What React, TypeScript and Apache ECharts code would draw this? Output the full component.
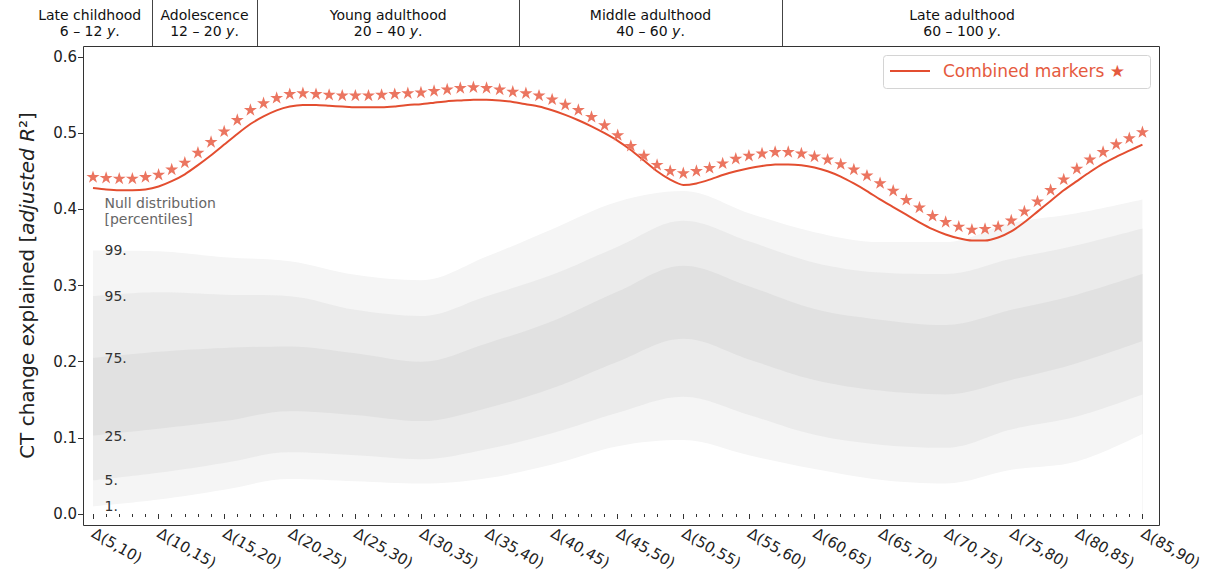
import React, { useEffect, useRef } from "react";
import * as echarts from "echarts";

// ---------- data ----------
const startYears: number[] = Array.from({ length: 81 }, (_, i) => 5 + i);

const combinedStars = [
  0.443, 0.442, 0.441, 0.441, 0.443, 0.446, 0.453, 0.462, 0.475, 0.489,
  0.503, 0.518, 0.531, 0.540, 0.547, 0.552, 0.553, 0.552, 0.551, 0.550,
  0.550, 0.550, 0.551, 0.552, 0.553, 0.554, 0.556, 0.558, 0.560, 0.561,
  0.560, 0.558, 0.555, 0.553, 0.550, 0.545, 0.538, 0.531, 0.522, 0.511,
  0.498, 0.484, 0.471, 0.459, 0.451, 0.448, 0.451, 0.455, 0.461, 0.467,
  0.471, 0.474, 0.476, 0.476, 0.474, 0.470, 0.466, 0.460, 0.453, 0.445,
  0.435, 0.425, 0.413, 0.403, 0.392, 0.384, 0.378, 0.374, 0.375, 0.378,
  0.386, 0.398, 0.411, 0.426, 0.440, 0.454, 0.466, 0.476, 0.486, 0.494,
  0.502,
];

const combinedLine = [
  0.428, 0.426, 0.425, 0.425, 0.426, 0.430, 0.437, 0.446, 0.458, 0.471,
  0.485, 0.499, 0.512, 0.522, 0.530, 0.535, 0.537, 0.537, 0.536, 0.535,
  0.534, 0.534, 0.534, 0.535, 0.537, 0.538, 0.540, 0.542, 0.543, 0.544,
  0.544, 0.543, 0.541, 0.538, 0.535, 0.530, 0.524, 0.517, 0.509, 0.500,
  0.490, 0.478, 0.464, 0.450, 0.439, 0.432, 0.434, 0.439, 0.445, 0.450,
  0.454, 0.457, 0.459, 0.459, 0.458, 0.455, 0.450, 0.443, 0.434, 0.424,
  0.413, 0.403, 0.393, 0.383, 0.374, 0.367, 0.362, 0.359, 0.359, 0.363,
  0.371, 0.383, 0.397, 0.411, 0.425, 0.437, 0.449, 0.460, 0.469, 0.477,
  0.485,
];

const bandStarts = [5, 10, 15, 20, 25, 30, 35, 40, 45, 50, 55, 60, 65, 70, 75, 80, 85];
const p99 = [0.346, 0.345, 0.337, 0.332, 0.314, 0.307, 0.338, 0.374, 0.410, 0.424, 0.395, 0.370, 0.357, 0.357, 0.382, 0.395, 0.413];
const p95 = [0.286, 0.291, 0.288, 0.286, 0.268, 0.260, 0.286, 0.314, 0.351, 0.385, 0.358, 0.330, 0.317, 0.315, 0.335, 0.353, 0.375];
const p75 = [0.205, 0.213, 0.218, 0.220, 0.211, 0.200, 0.224, 0.253, 0.292, 0.326, 0.299, 0.269, 0.255, 0.248, 0.268, 0.288, 0.315];
const p25 = [0.103, 0.112, 0.122, 0.135, 0.130, 0.122, 0.139, 0.165, 0.200, 0.230, 0.203, 0.176, 0.162, 0.157, 0.176, 0.198, 0.227];
const p5 = [0.044, 0.054, 0.067, 0.081, 0.077, 0.072, 0.085, 0.106, 0.133, 0.154, 0.130, 0.104, 0.091, 0.087, 0.111, 0.128, 0.157];
const p1 = [0.010, 0.019, 0.032, 0.046, 0.043, 0.040, 0.047, 0.065, 0.089, 0.097, 0.077, 0.059, 0.045, 0.040, 0.058, 0.069, 0.105];

const percentileNames = ["99.", "95.", "75.", "25.", "5.", "1."];

const ageGroups = ["Late childhood", "Adolescence", "Young adulthood", "Middle adulthood", "Late adulthood"];
const ageRanges = ["6 \u2013 12", "12 \u2013 20", "20 \u2013 40", "40 \u2013 60", "60 \u2013 100"];
const ageBounds = [0, 9.5, 17.5, 37.5, 57.5, 85];

const seriesName = "Combined markers \u2605";

// ---------- styles ----------
const FONT = "DejaVu Sans";
const LINE_COLOR = "#E34E30";
const STAR_COLOR = "#EB7560";
const STAR_PATH =
  "path://M0,-100L22.45,-30.9L95.11,-30.9L36.33,11.8L58.78,80.9L0,38.2L-58.78,80.9L-36.33,11.8L-95.11,-30.9L-22.45,-30.9Z";

export default function App() {
  const ref = useRef<HTMLDivElement>(null);

  useEffect(() => {
    if (!ref.current) return;
    const chart = echarts.init(ref.current, undefined, { renderer: "svg", width: 1205, height: 585 });

    const pairs = (xs: number[], ys: number[]) => xs.map((x, i) => [x, ys[i]]);

    // painter's order: each percentile curve fills down to 0, upper ones first
    const bandLayers = [
      { name: "99th percentile", vals: p99, color: "#f5f5f5" },
      { name: "95th percentile", vals: p95, color: "#ebebeb" },
      { name: "75th percentile", vals: p75, color: "#e1e1e1" },
      { name: "25th percentile", vals: p25, color: "#ebebeb" },
      { name: "5th percentile", vals: p5, color: "#f5f5f5" },
      { name: "1st percentile", vals: p1, color: "#ffffff" },
    ];

    const bandSeries = bandLayers.map((b) => ({
      type: "line",
      name: b.name,
      data: pairs(bandStarts, b.vals),
      symbol: "none",
      smooth: 0.35,
      lineStyle: { width: 0, opacity: 0 },
      areaStyle: { color: b.color, opacity: 1, origin: "start" },
      silent: true,
      z: 1,
    }));

    const option: any = {
      animation: false,
      backgroundColor: "#ffffff",
      textStyle: { fontFamily: FONT },
      grid: { left: 93, top: 57, width: 1056, height: 457, containLabel: false },
      xAxis: {
        type: "value",
        min: 5,
        max: 85,
        interval: 5,
        offset: 11,
        axisLine: { show: false },
        axisTick: { show: true, length: 5, lineStyle: { color: "#333", width: 1 } },
        minorTick: { show: true, splitNumber: 5, length: 3, lineStyle: { color: "#333", width: 1 } },
        splitLine: { show: false },
        minorSplitLine: { show: false },
        axisLabel: {
          rotate: -30,
          fontSize: 15,
          color: "#222",
          fontFamily: FONT,
          margin: 7,
          formatter: (v: number) => `\u0394(${v},${v + 5})`,
        },
      },
      yAxis: {
        type: "value",
        min: 0,
        max: 0.6,
        interval: 0.1,
        offset: 10,
        axisLine: { show: false },
        axisTick: { show: true, length: 5, lineStyle: { color: "#333", width: 1 } },
        splitLine: { show: false },
        axisLabel: {
          fontSize: 15,
          color: "#222",
          fontFamily: FONT,
          margin: 6,
          formatter: (v: number) => v.toFixed(1),
        },
        name: "{n|CT change explained [}{i|adjusted R}{n|\u00b2]}",
        nameLocation: "middle",
        nameGap: 46,
        nameRotate: 90,
        nameTextStyle: {
          rich: {
            n: { fontSize: 20, fontFamily: FONT, color: "#222" },
            i: { fontSize: 20, fontFamily: FONT, color: "#222", fontStyle: "italic" },
          },
        },
      },
      series: [
        ...bandSeries,
        {
          type: "line",
          name: seriesName,
          data: pairs(startYears, combinedLine),
          symbol: "none",
          smooth: 0.2,
          lineStyle: { color: LINE_COLOR, width: 2 },
          itemStyle: { color: LINE_COLOR },
          z: 3,
        },
        {
          type: "scatter",
          name: "Combined markers (stars)",
          data: pairs(startYears, combinedStars),
          symbol: STAR_PATH,
          symbolKeepAspect: true,
          symbolSize: 13,
          itemStyle: { color: STAR_COLOR, opacity: 1 },
          z: 4,
        },
      ],
    };

    chart.setOption(option);

    const px = (x: number) => chart.convertToPixel({ xAxisIndex: 0 }, x) as number;
    const py = (y: number) => chart.convertToPixel({ yAxisIndex: 0 }, y) as number;

    const frameLeft = 83;
    const frameTop = 46;
    const frameRight = 1159;
    const frameBottom = 525;

    const graphics: any[] = [];
    graphics.push({
      type: "rect",
      shape: { x: frameLeft + 0.5, y: frameTop + 0.5, width: frameRight - frameLeft, height: frameBottom - frameTop },
      style: { fill: "none", stroke: "#333", lineWidth: 1 },
      z: 50,
      silent: true,
    });

    // age group dividers
    for (let i = 1; i < ageBounds.length - 1; i++) {
      const x = Math.round(px(ageBounds[i])) + 0.5;
      graphics.push({
        type: "line",
        shape: { x1: x, y1: 0, x2: x, y2: frameTop },
        style: { stroke: "#444", lineWidth: 1 },
        z: 50,
        silent: true,
      });
    }
    // age group labels
    ageGroups.forEach((g, i) => {
      const cx = px((ageBounds[i] + ageBounds[i + 1]) / 2);
      graphics.push({
        type: "text",
        x: cx,
        y: 23,
        style: {
          text: `{n|${g}}\n{n|${ageRanges[i]} }{i|y}{n|.}`,
          align: "center",
          verticalAlign: "middle",
          rich: {
            n: { fontSize: 14, fontFamily: FONT, fill: "#111", lineHeight: 16 },
            i: { fontSize: 14, fontFamily: FONT, fill: "#111", fontStyle: "italic", lineHeight: 16 },
          },
        },
        z: 50,
        silent: true,
      });
    });

    // legend (line sample + label in a rounded box)
    graphics.push({
      type: "rect",
      shape: { x: 883.5, y: 55.5, width: 267, height: 33, r: 3 },
      style: { fill: "#ffffff", stroke: "#d4d4d4", lineWidth: 1 },
      z: 60,
      silent: true,
    });
    graphics.push({
      type: "line",
      shape: { x1: 890, y1: 71, x2: 930, y2: 71 },
      style: { stroke: LINE_COLOR, lineWidth: 2 },
      z: 61,
      silent: true,
    });
    graphics.push({
      type: "text",
      x: 943,
      y: 71,
      style: {
        text: seriesName,
        align: "left",
        verticalAlign: "middle",
        fontSize: 17,
        fontFamily: FONT,
        fill: "#E55A3E",
      },
      z: 61,
      silent: true,
    });

    // null distribution labels
    const labelX = px(bandStarts[0]) + 11.5;
    graphics.push({
      type: "text",
      x: labelX,
      y: 211,
      style: {
        text: "Null distribution\n[percentiles]",
        align: "left",
        verticalAlign: "middle",
        fontSize: 14,
        lineHeight: 16,
        fontFamily: FONT,
        fill: "#666",
      },
      z: 50,
      silent: true,
    });
    const firstVals = [p99[0], p95[0], p75[0], p25[0], p5[0], p1[0]];
    percentileNames.forEach((name, i) => {
      graphics.push({
        type: "text",
        x: labelX,
        y: py(firstVals[i]),
        style: {
          text: name,
          align: "left",
          verticalAlign: "middle",
          fontSize: 14,
          fontFamily: FONT,
          fill: "#333",
        },
        z: 50,
        silent: true,
      });
    });

    chart.setOption({ graphic: graphics });

    return () => {
      chart.dispose();
    };
  }, []);

  return (
    <div
      ref={ref}
      style={{ position: "fixed", left: 0, top: 0, width: 1205, height: 585, background: "#fff" }}
    />
  );
}
